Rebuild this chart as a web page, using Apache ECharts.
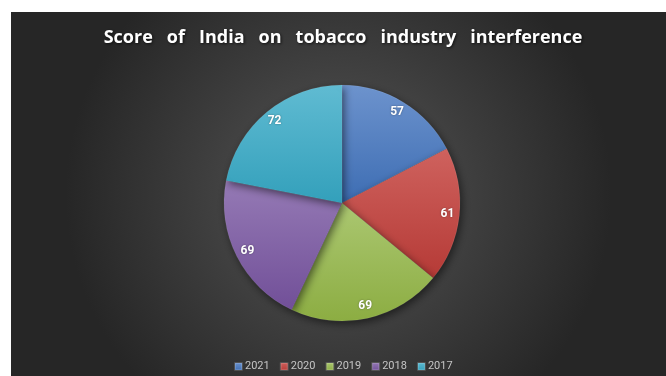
<!DOCTYPE html>
<html><head><meta charset="utf-8">
<script src="https://cdn.jsdelivr.net/npm/echarts@6/dist/echarts.min.js"></script>
<style>html,body{margin:0;padding:0;background:#fff}#c{width:666px;height:376px}</style>
</head><body><div id="c"></div>
<script>
const years = ['2021', '2020', '2019', '2018', '2017'];
const scores = [57, 61, 69, 69, 72];
const topColors = ['#6d93cd', '#cf625e', '#abc771', '#957ab5', '#60bbd2'];
const bottomColors = ['#3d6db3', '#b53a36', '#8cad42', '#714f98', '#33a0bb'];
const titleText = 'Score   of   India   on   tobacco   industry   interference';

const chart = echarts.init(document.getElementById('c'), null, {renderer: 'canvas'});
const grad = (i) => new echarts.graphic.LinearGradient(0, 0, 0, 1, [
  {offset: 0, color: topColors[i]}, {offset: 1, color: bottomColors[i]}]);
const pieData = years.map((y, i) => ({name: y, value: scores[i], itemStyle: {color: grad(i)}}));
const labelData = years.map((y, i) => ({name: y, value: scores[i]}));

chart.setOption({
  backgroundColor: '#ffffff',
  animation: false,
  color: bottomColors,
  graphic: [{
    type: 'rect', z: -10, silent: true,
    shape: {x: 11, y: 12, width: 655, height: 364},
    style: {fill: new echarts.graphic.RadialGradient(0.5, 0.5, 0.75, [
      {offset: 0, color: '#565656'}, {offset: 0.5, color: '#3e3e3e'}, {offset: 1, color: '#262626'}])}
  }],
  title: {
    text: titleText, left: 338, top: 24, textAlign: 'center',
    textStyle: {color: '#ffffff', fontFamily: 'Open Sans', fontWeight: 'bold', fontSize: 18,
      textShadowColor: 'rgba(0,0,0,0.7)', textShadowBlur: 3, textShadowOffsetX: 1, textShadowOffsetY: 1}
  },
  legend: {
    bottom: 4, left: 234, padding: 0, icon: 'rect', itemWidth: 7, itemHeight: 7, itemGap: 10,
    textStyle: {color: '#c4c4c4', fontFamily: 'Roboto', fontSize: 11, padding: [0,0,0,-2]},
    data: years
  },
  series: [{
    type: 'pie', center: [342, 203], radius: 118, startAngle: 90, clockwise: true,
    silent: true,
    label: {show: false}, labelLine: {show: false},
    itemStyle: {borderColor: 'rgba(255,255,255,0.15)', borderWidth: 0.5,
      shadowColor: 'rgba(0,0,0,0.55)', shadowBlur: 8, shadowOffsetX: 2, shadowOffsetY: 3},
    data: pieData
  }, {
    type: 'pie', center: [342, 203], radius: [88, 118], startAngle: 90, clockwise: true,
    silent: true,
    itemStyle: {color: 'rgba(0,0,0,0)'},
    label: {show: true, position: 'inside', formatter: '{c}', color: '#ffffff',
      fontFamily: 'Roboto', fontWeight: 'bold', fontSize: 12,
      textShadowColor: 'rgba(0,0,0,0.4)', textShadowBlur: 2},
    labelLine: {show: false},
    data: labelData
  }]
});
</script></body></html>
